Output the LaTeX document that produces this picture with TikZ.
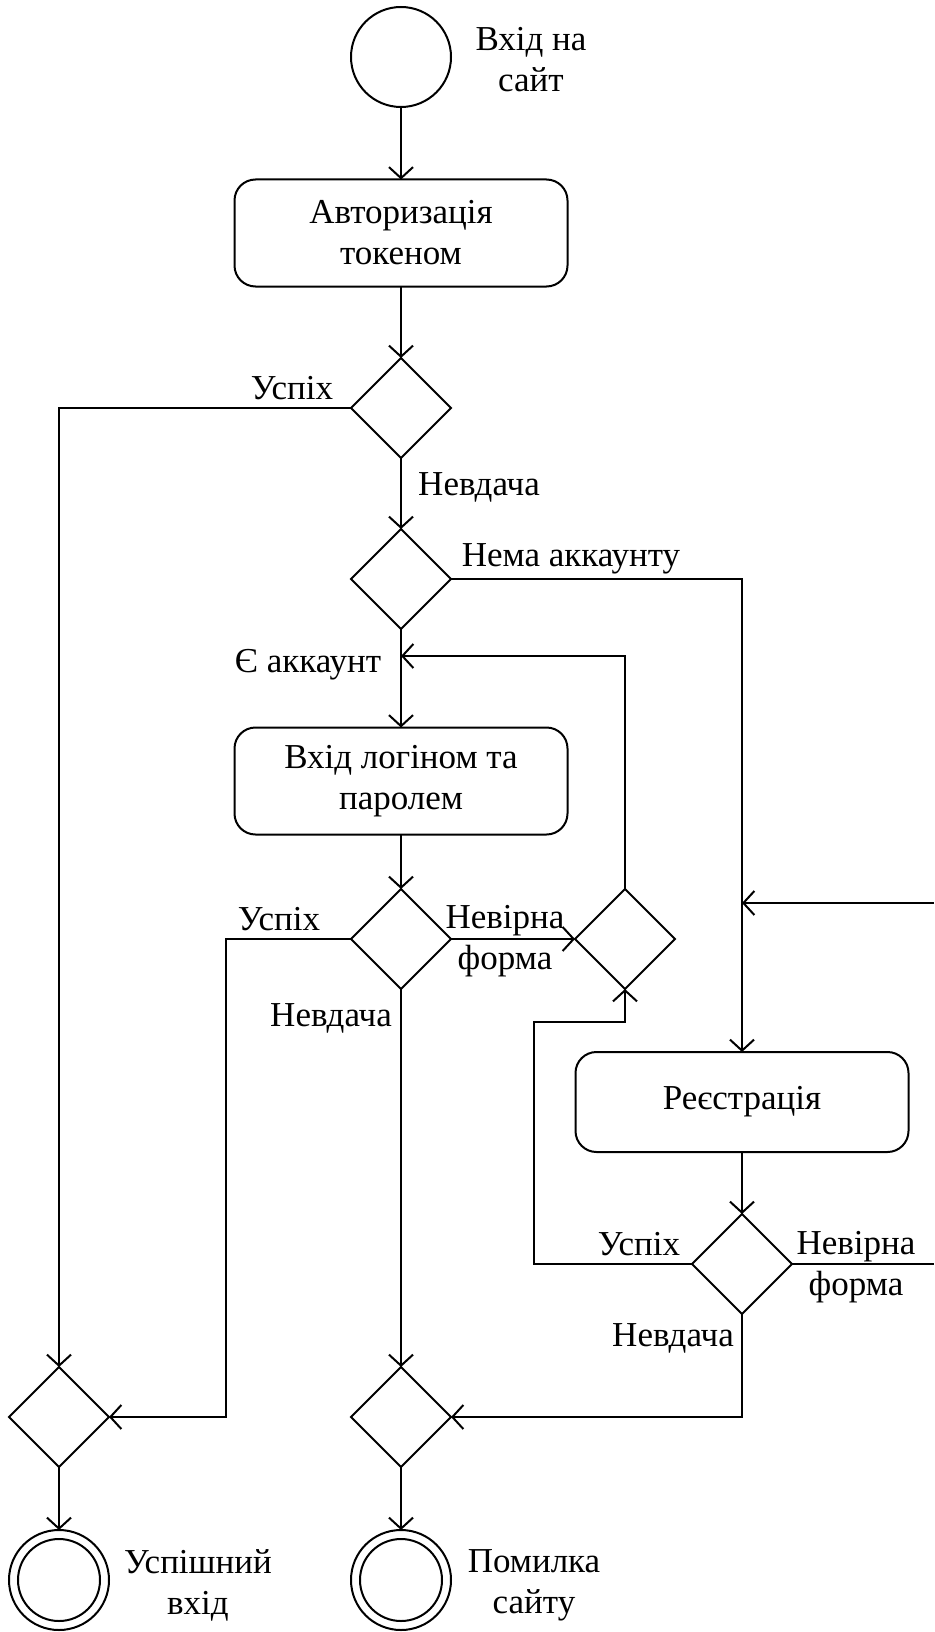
\documentclass[tikz,border=0pt]{standalone}
\usepackage{fontspec}
\setmainfont{Liberation Serif}
\usetikzlibrary{shapes.geometric,arrows.meta}
\newcommand\diafont{\fontsize{35}{41}\selectfont}
\tikzset{
  ln/.style={line width=2pt, draw=black},
  arr/.style={ln, -{Straight Barb[length=11pt,width=24pt,line width=2pt]}},
  actbox/.style={draw, line width=2pt, rounded corners=21pt, minimum width=333pt, inner sep=0pt, outer sep=0pt, align=center, font=\diafont},
  dec/.style={draw, line width=2pt, diamond, minimum width=100pt, minimum height=100pt, inner sep=0pt, outer sep=0pt},
  state/.style={draw, line width=2pt, circle, minimum size=100pt, inner sep=0pt, outer sep=0pt},
  lbl/.style={font=\diafont, inner sep=0pt, align=center},
}
\begin{document}
\begin{tikzpicture}[x=1pt,y=-1pt]
\useasboundingbox (0,0) rectangle (934,1632);
% nodes
\node[state] (start) at (401,57) {};
\node[lbl] (tstart) at (531,60) {Вхід на\\сайт};
\node[actbox, minimum height=107pt] (box1) at (401,233) {Авторизація\\токеном};
\node[dec] (d1) at (401,408) {};
\node[dec] (d2) at (401,579) {};
\node[actbox, minimum height=107pt] (box2) at (401,781) {Вхід логіном та\\паролем};
\node[dec] (d4) at (401,939) {};
\node[dec] (d3) at (625,939) {};
\node[actbox, minimum height=100pt] (reg) at (742,1102) {Реєстрація};
\node[dec] (d5) at (742,1264) {};
\node[dec] (dL) at (59,1417) {};
\node[dec] (d6) at (401,1417) {};
\node[state] (end1) at (59,1580) {};
\draw[ln] (end1) circle[radius=41pt];
\node[state] (end2) at (401,1580) {};
\draw[ln] (end2) circle[radius=41pt];
\node[lbl] (tend1) at (198,1585) {Успішний\\вхід};
\node[lbl] (tend2) at (534,1585) {Помилка\\сайту};
% labels
\node[lbl] (l1) at (292,388) {Успіх};
\node[lbl] (l2) at (479,487) {Невдача};
\node[lbl] (l3) at (571,559) {Нема аккаунту};
\node[lbl] (l4) at (308,665) {Є аккаунт};
\node[lbl] (l5) at (279,919) {Успіх};
\node[lbl] (l6) at (505,941) {Невірна\\форма};
\node[lbl] (l7) at (331,1018) {Невдача};
\node[lbl] (l8) at (639,1244) {Успіх};
\node[lbl] (l9) at (856,1267) {Невірна\\форма};
\node[lbl] (l10) at (673,1338) {Невдача};
% coordinates
\coordinate (loopin) at (401,656);
\coordinate (c4) at (226,939);
\coordinate (c5) at (534,1022);
\coordinate (redge1) at (934,1264);
\coordinate (redge2) at (934,903);
\coordinate (regin) at (742,903);
% connectors
\draw[arr] (start) -- (box1);
\draw[arr] (box1) -- (d1);
\draw[arr] (d1.west) -| (dL.north);
\draw[arr] (d1) -- (d2);
\draw[arr] (d2.east) -| (reg.north);
\draw[arr] (d2) -- (box2);
\draw[arr] (d3.north) |- (loopin);
\draw[arr] (box2) -- (d4);
\draw[arr] (d4.west) -- (c4) |- (dL.east);
\draw[arr] (d4.east) -- (d3.west);
\draw[arr] (d4.south) -- (d6.north);
\draw[arr] (d5.west) -| (c5) -| (d3.south);
\draw[ln] (d5.east) -- (redge1);
\draw[arr] (redge2) -- (regin);
\draw[arr] (reg) -- (d5);
\draw[arr] (d5.south) |- (d6.east);
\draw[arr] (dL) -- (end1);
\draw[arr] (d6) -- (end2);
\end{tikzpicture}
\end{document}
